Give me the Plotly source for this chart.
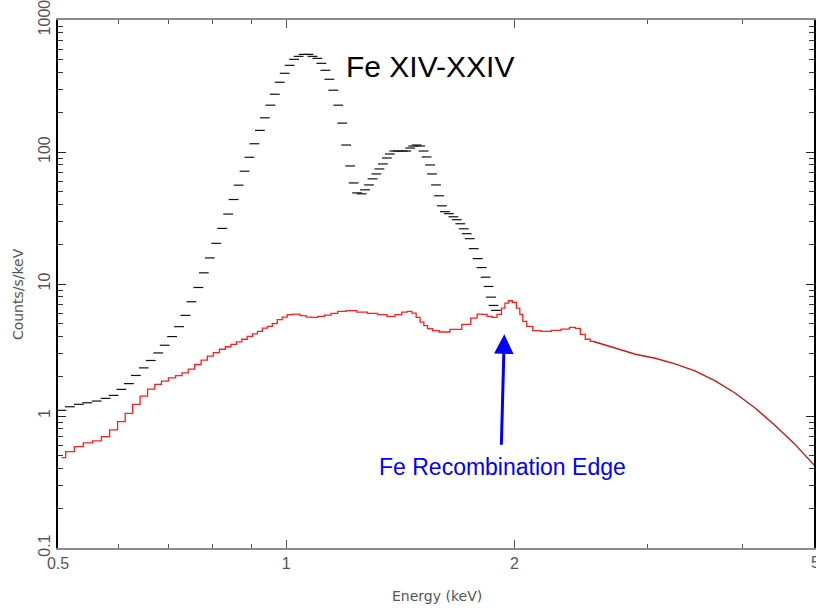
import math
import plotly.graph_objects as go

# ---------------- data ----------------
# observed spectrum (black dashes), energy in keV, counts/s/keV
energy_black = [0.5053, 0.5184, 0.5327, 0.5465, 0.5624, 0.5778, 0.5919, 0.6064, 0.6202, 0.6335,
                0.6489, 0.6628, 0.6779, 0.6913, 0.7071, 0.7222, 0.7365, 0.7499, 0.7659, 0.7787,
                0.7929, 0.8086, 0.8234, 0.8384, 0.8524, 0.8654, 0.8812, 0.8945, 0.9081, 0.9233,
                0.9373, 0.9529, 0.9659, 0.9806, 0.9955, 1.0106, 1.0244, 1.0384, 1.0542, 1.0702,
                1.0831, 1.0996, 1.1129, 1.1264, 1.1401, 1.1539, 1.1714, 1.1856, 1.2000, 1.2146,
                1.2274, 1.2405, 1.2574, 1.2707, 1.2862, 1.2998, 1.3156, 1.3275, 1.3416, 1.3578,
                1.3702, 1.3889, 1.4036, 1.4249, 1.4400, 1.4575, 1.4708, 1.4864, 1.5021, 1.5180,
                1.5318, 1.5481, 1.5574, 1.5763, 1.5906, 1.6051, 1.6197, 1.6393, 1.6617, 1.6793,
                1.6971, 1.7151, 1.7307, 1.7464, 1.7676, 1.7890, 1.8107, 1.8327, 1.8493, 1.8633,
                1.8774, 1.8916]
counts_black = [1.104, 1.175, 1.226, 1.260, 1.298, 1.360, 1.433, 1.591, 1.759, 2.028,
                2.315, 2.633, 3.004, 3.435, 3.997, 4.753, 5.784, 7.340, 9.410, 12.15,
                15.76, 20.32, 26.37, 33.87, 43.65, 56.07, 71.52, 91.20, 115.5, 145.8,
                181.5, 226.3, 274.0, 337.6, 394.7, 453.5, 503.4, 530.3, 549.0, 549.0,
                530.3, 512.2, 469.6, 415.8, 355.5, 293.8, 226.3, 165.5, 112.9, 78.4,
                58.3, 49.0, 48.2, 51.7, 56.3, 62.6, 68.2, 74.4, 81.2, 90.1,
                96.6, 101.7, 101.7, 101.7, 101.7, 107.2, 111.0, 112.9, 111.0, 101.7,
                91.7, 79.8, 68.2, 56.3, 46.6, 39.1, 35.3, 34.1, 32.3, 30.7,
                28.6, 26.2, 24.05, 22.05, 18.53, 15.57, 13.32, 11.26, 9.58, 7.95,
                6.88, 6.31]

# model without Fe XIV-XXIV lines (red histogram)
energy_red = [0.5053, 0.5184, 0.5327, 0.5473, 0.5632, 0.5778, 0.5919, 0.6064, 0.6202, 0.6344,
              0.6489, 0.6638, 0.6779, 0.6913, 0.7071, 0.7222, 0.7354, 0.7499, 0.7648, 0.7799,
              0.7941, 0.8086, 0.8246, 0.8384, 0.8524, 0.8666, 0.8812, 0.8958, 0.9095, 0.9233,
              0.9373, 0.9515, 0.9659, 0.9806, 0.9955, 1.0106, 1.0321, 1.0542, 1.0702, 1.0897,
              1.1129, 1.1349, 1.1574, 1.1821, 1.2182, 1.2612, 1.2998, 1.3396, 1.3764, 1.4078,
              1.4335, 1.4553, 1.4752, 1.4931, 1.5112, 1.5272, 1.5457, 1.5739, 1.6099, 1.6793,
              1.7307, 1.7729, 1.7998, 1.8271, 1.8549, 1.8830, 1.9117, 1.9348, 1.9524, 1.9760,
              2.0000, 2.0243, 2.0426, 2.0612, 2.0925, 2.1371, 2.2025, 2.2698, 2.3393, 2.3892,
              2.4255, 2.4623, 2.4997, 2.5377, 2.6390, 2.7611, 2.8888, 3.0682, 3.2589, 3.4614,
              3.6765, 3.9049, 4.1476, 4.4053, 4.6790, 4.9700]
counts_red = [0.4845, 0.5377, 0.5865, 0.6256, 0.6477, 0.698, 0.7838, 0.9057, 1.048, 1.226,
              1.416, 1.599, 1.735, 1.837, 1.946, 2.021, 2.122, 2.263, 2.456, 2.646,
              2.837, 3.025, 3.204, 3.346, 3.494, 3.650, 3.813, 4.017, 4.195, 4.381,
              4.639, 4.777, 5.006, 5.368, 5.616, 5.855, 5.916, 5.754, 5.616, 5.587,
              5.684, 5.814, 5.989, 6.201, 6.277, 6.126, 5.989, 5.855, 5.684, 5.855,
              6.126, 6.201, 6.021, 5.587, 5.148, 4.836, 4.590, 4.433, 4.327, 4.535,
              4.947, 5.519, 5.916, 5.886, 5.684, 5.587, 5.886, 6.566, 7.164, 7.469,
              7.251, 6.566, 5.886, 5.212, 4.777, 4.433, 4.381, 4.457, 4.559, 4.695,
              4.614, 4.157, 3.813, 3.681, 3.435, 3.148, 2.937, 2.740, 2.480, 2.200,
              1.850, 1.500, 1.160, 0.860, 0.620, 0.425]

x_tick_vals = [0.5, 1, 2]
x_tick_text = ["0.5", "1", "2"]
x_minor_vals = [0.6, 0.7, 0.8, 0.9, 3, 4]
y_tick_vals = [0.1, 1, 10, 100, 1000]
y_tick_text = ["0.1", "1", "10", "100", "1000"]
y_minor_vals = [m * d for d in (0.1, 1, 10, 100) for m in range(2, 10)]

title_text = "Fe XIV-XXIV"
edge_text = "Fe Recombination Edge"
edge_arrow_head = (1.94, 4.16)   # keV, counts/s/keV
x_title = "Energy (keV)"
y_title = "Counts/s/keV"

# ---------------- figure ----------------
split_e = 2.54
step_e = [e for e in energy_red if e <= split_e]
step_c = counts_red[:len(step_e)]
smooth_e = energy_red[len(step_e) - 1:]
smooth_c = counts_red[len(step_e) - 1:]

fig = go.Figure()
fig.add_trace(go.Scatter(
    x=energy_black, y=counts_black, mode="markers", showlegend=False, hoverinfo="skip",
    marker=dict(symbol="line-ew", size=7, line=dict(width=1.2, color="#111")),
))
fig.add_trace(go.Scatter(
    x=step_e, y=step_c, mode="lines", showlegend=False, hoverinfo="skip",
    line=dict(color="#ff1e1e", width=1.3, shape="hvh"),
))
fig.add_trace(go.Scatter(
    x=smooth_e, y=smooth_c, mode="lines", showlegend=False, hoverinfo="skip",
    line=dict(color="#c81818", width=1.4, shape="linear"),
))

PX_PER_DEC = 760.0
PLOT_W = 758.0
x_lo = math.log10(0.5)
x_hi = x_lo + PLOT_W / PX_PER_DEC

tick_font = dict(family="Liberation Sans", size=16, color="#555")
label_font = dict(family="DejaVu Sans", size=14, color="#555")

fig.update_layout(
    width=816, height=611,
    margin=dict(l=58, r=0, t=18, b=63),
    paper_bgcolor="white", plot_bgcolor="white",
    xaxis=dict(
        type="log", range=[x_lo, x_hi],
        tickmode="array", tickvals=x_tick_vals, ticktext=x_tick_text,
        ticks="inside", ticklen=8, tickwidth=1, tickcolor="#555",
        showline=True, linecolor="#8a8a8a", linewidth=1.5, mirror="ticks",
        showgrid=False, zeroline=False, tickfont=tick_font,
        minor=dict(tickmode="array", tickvals=x_minor_vals, ticks="inside",
                   ticklen=4, tickcolor="#555", showgrid=False),
    ),
    yaxis=dict(
        type="log", range=[-1, 3],
        tickmode="array", tickvals=y_tick_vals, ticktext=y_tick_text, tickangle=-90,
        ticklabeloverflow="allow",
        ticks="inside", ticklen=8, tickwidth=1, tickcolor="#222",
        showline=True, linecolor="black", linewidth=1.5, mirror="ticks",
        showgrid=False, zeroline=False, tickfont=tick_font,
        minor=dict(tickmode="array", tickvals=y_minor_vals, ticks="inside",
                   ticklen=5, tickcolor="#333", showgrid=False),
    ),
    annotations=[
        dict(text=title_text, xref="paper", yref="paper", x=0.492, y=0.911,
             xanchor="center", yanchor="middle", showarrow=False,
             font=dict(family="Liberation Sans", size=30, color="black")),
        dict(text=edge_text, xref="paper", yref="paper", x=0.588, y=0.153,
             xanchor="center", yanchor="middle", showarrow=False,
             font=dict(family="Liberation Sans", size=23, color="#0000ff")),
        dict(text="", x=math.log10(edge_arrow_head[0]), y=math.log10(edge_arrow_head[1]),
             xref="x", yref="y", showarrow=True, ax=-3, ay=112,
             arrowhead=2, arrowsize=1.3, arrowwidth=3, arrowcolor="#0000ff"),
        dict(text="5", xref="paper", yref="paper", x=1.0026, y=-0.0274,
             xanchor="center", yanchor="middle", showarrow=False, font=tick_font),
        dict(text=x_title, xref="paper", yref="paper", x=0.5013, y=-0.0906,
             xanchor="center", yanchor="middle", showarrow=False, font=label_font),
        dict(text=y_title, xref="paper", yref="paper", x=-0.0528, y=0.481,
             xanchor="center", yanchor="middle", showarrow=False, textangle=-90,
             font=label_font),
    ],
)

fig.write_html("out.html")
